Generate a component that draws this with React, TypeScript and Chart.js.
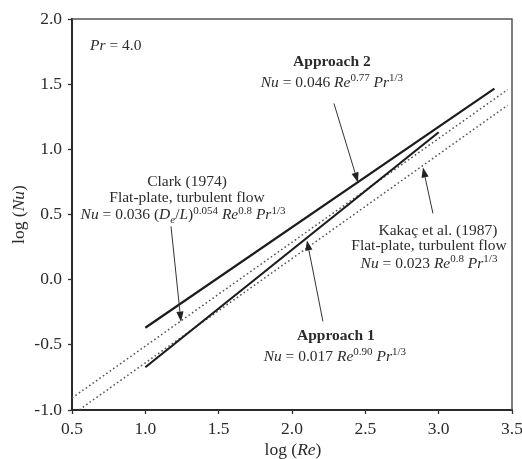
import React, { useEffect, useRef } from 'react';
import { Chart, registerables } from 'chart.js';

Chart.register(...registerables);

// ---- data (log10 values) ----
const approach1X = [1.0, 3.0];
const approach1Y = [-0.672, 1.131];
const approach2X = [1.0, 3.38];
const approach2Y = [-0.369, 1.466];
const clarkX = [0.5, 3.47];
const clarkY = [-0.908, 1.458];
const kakacX = [0.55, 3.47];
const kakacY = [-0.998, 1.338];

const xTicks = [0.5, 1.0, 1.5, 2.0, 2.5, 3.0, 3.5];
const yTicks = [-1.0, -0.5, 0.0, 0.5, 1.0, 1.5, 2.0];

const FONT = '"Liberation Serif", "Times New Roman", serif';
const INK = '#2b2b2b';

type Seg = { t: string; st?: 'i' | 'b' | 'sup' | 'isub' };

// annotation texts (anchor in data units)
const textBlocks: { x: number; y: number; align: 'left' | 'center'; segs: Seg[] }[] = [
  { x: 0.623, y: 1.76, align: 'left', segs: [{ t: 'Pr', st: 'i' }, { t: ' = 4.0' }] },
  { x: 2.272, y: 1.636, align: 'center', segs: [{ t: 'Approach 2', st: 'b' }] },
  { x: 2.272, y: 1.482, align: 'center', segs: [{ t: 'Nu', st: 'i' }, { t: ' = 0.046 ' }, { t: 'Re', st: 'i' }, { t: '0.77', st: 'sup' }, { t: ' ' }, { t: 'Pr', st: 'i' }, { t: '1/3', st: 'sup' }] },
  { x: 1.284, y: 0.716, align: 'center', segs: [{ t: 'Clark (1974)' }] },
  { x: 1.284, y: 0.593, align: 'center', segs: [{ t: 'Flat-plate, turbulent flow' }] },
  { x: 1.257, y: 0.462, align: 'center', segs: [{ t: 'Nu', st: 'i' }, { t: ' = 0.036 (' }, { t: 'D', st: 'i' }, { t: 'e', st: 'isub' }, { t: '/' }, { t: 'L', st: 'i' }, { t: ')' }, { t: '0.054', st: 'sup' }, { t: ' ' }, { t: 'Re', st: 'i' }, { t: '0.8', st: 'sup' }, { t: ' ' }, { t: 'Pr', st: 'i' }, { t: '1/3', st: 'sup' }] },
  { x: 2.995, y: 0.340, align: 'center', segs: [{ t: 'Kakaç et al. (1987)' }] },
  { x: 2.934, y: 0.225, align: 'center', segs: [{ t: 'Flat-plate, turbulent flow' }] },
  { x: 2.934, y: 0.087, align: 'center', segs: [{ t: 'Nu', st: 'i' }, { t: ' = 0.023 ' }, { t: 'Re', st: 'i' }, { t: '0.8', st: 'sup' }, { t: ' ' }, { t: 'Pr', st: 'i' }, { t: '1/3', st: 'sup' }] },
  { x: 2.299, y: -0.465, align: 'center', segs: [{ t: 'Approach 1', st: 'b' }] },
  { x: 2.292, y: -0.626, align: 'center', segs: [{ t: 'Nu', st: 'i' }, { t: ' = 0.017 ' }, { t: 'Re', st: 'i' }, { t: '0.90', st: 'sup' }, { t: ' ' }, { t: 'Pr', st: 'i' }, { t: '1/3', st: 'sup' }] },
];

// arrows: from -> to (tip), data units
const arrows = [
  { x0: 2.286, y0: 1.352, x1: 2.45, y1: 0.746 },
  { x0: 1.175, y0: 0.409, x1: 1.243, y1: -0.322 },
  { x0: 2.961, y0: 0.508, x1: 2.893, y1: 0.861 },
  { x0: 2.211, y0: -0.320, x1: 2.102, y1: 0.301 },
];

function segFont(st: Seg['st'], size: number) {
  switch (st) {
    case 'i': return `italic ${size}px ${FONT}`;
    case 'b': return `bold ${size}px ${FONT}`;
    case 'sup': return `${Math.round(size * 0.68)}px ${FONT}`;
    case 'isub': return `italic ${Math.round(size * 0.68)}px ${FONT}`;
    default: return `${size}px ${FONT}`;
  }
}

function drawRich(ctx: CanvasRenderingContext2D, segs: Seg[], x: number, y: number, align: 'left' | 'center', size: number) {
  const widths: number[] = [];
  let total = 0;
  for (const s of segs) {
    ctx.font = segFont(s.st, size);
    const w = ctx.measureText(s.t).width;
    widths.push(w);
    total += w;
  }
  let cx = align === 'center' ? x - total / 2 : x;
  ctx.textAlign = 'left';
  ctx.textBaseline = 'alphabetic';
  segs.forEach((s, i) => {
    ctx.font = segFont(s.st, size);
    const dy = s.st === 'sup' ? -size * 0.38 : s.st === 'isub' ? size * 0.22 : 0;
    ctx.fillText(s.t, cx, y + dy);
    cx += widths[i];
  });
}

const overlay = {
  id: 'overlay',
  afterDraw(chart: any) {
    const ctx: CanvasRenderingContext2D = chart.ctx;
    const { left, right, top, bottom } = chart.chartArea;
    const xs = chart.scales.x;
    const ys = chart.scales.y;
    ctx.save();
    // top and right frame
    ctx.strokeStyle = '#555';
    ctx.lineWidth = 1.5;
    ctx.beginPath();
    ctx.moveTo(left, top);
    ctx.lineTo(right, top);
    ctx.lineTo(right, bottom);
    ctx.stroke();

    ctx.fillStyle = INK;
    for (const b of textBlocks) {
      drawRich(ctx, b.segs, xs.getPixelForValue(b.x), ys.getPixelForValue(b.y), b.align, 15.5);
    }

    // arrows
    ctx.strokeStyle = '#333';
    ctx.fillStyle = '#222';
    ctx.lineWidth = 1;
    for (const a of arrows) {
      const x0 = xs.getPixelForValue(a.x0), y0 = ys.getPixelForValue(a.y0);
      const x1 = xs.getPixelForValue(a.x1), y1 = ys.getPixelForValue(a.y1);
      const ang = Math.atan2(y1 - y0, x1 - x0);
      const hl = 10, hw = 3.6;
      const bx = x1 - hl * Math.cos(ang), by = y1 - hl * Math.sin(ang);
      ctx.beginPath();
      ctx.moveTo(x0, y0);
      ctx.lineTo(bx, by);
      ctx.stroke();
      ctx.beginPath();
      ctx.moveTo(x1, y1);
      ctx.lineTo(bx + hw * Math.sin(ang), by - hw * Math.cos(ang));
      ctx.lineTo(bx - hw * Math.sin(ang), by + hw * Math.cos(ang));
      ctx.closePath();
      ctx.fill();
    }

    // axis titles
    ctx.fillStyle = INK;
    drawRich(ctx, [{ t: 'log (' }, { t: 'Re', st: 'i' }, { t: ')' }], (left + right) / 2 + 1, 454.5, 'center', 17.5);
    ctx.save();
    ctx.translate(23.5, (top + bottom) / 2);
    ctx.rotate(-Math.PI / 2);
    drawRich(ctx, [{ t: 'log (' }, { t: 'Nu', st: 'i' }, { t: ')' }], 0, 0, 'center', 17.5);
    ctx.restore();
    ctx.restore();
  },
};

export default function App() {
  const ref = useRef<HTMLCanvasElement>(null);
  useEffect(() => {
    if (!ref.current) return;
    const solid = { borderColor: '#1c1c1c', borderWidth: 2.2, pointRadius: 0, tension: 0, fill: false };
    const dotted = { borderColor: '#555', borderWidth: 1.5, borderDash: [1.6, 2.6], pointRadius: 0, tension: 0, fill: false };
    const toPts = (xs: number[], ys: number[]) => xs.map((x, i) => ({ x, y: ys[i] }));
    const chart = new Chart(ref.current, {
      type: 'line',
      data: {
        datasets: [
          { label: 'Approach 2', data: toPts(approach2X, approach2Y), ...solid },
          { label: 'Approach 1', data: toPts(approach1X, approach1Y), ...solid },
          { label: 'Clark (1974)', data: toPts(clarkX, clarkY), ...dotted },
          { label: 'Kakaç et al. (1987)', data: toPts(kakacX, kakacY), ...dotted },
        ],
      },
      options: {
        animation: false,
        responsive: false,
        devicePixelRatio: 1,
        layout: { autoPadding: false, padding: { top: 19, right: 10, left: 0, bottom: 0 } },
        plugins: { legend: { display: false }, tooltip: { enabled: false } },
        scales: {
          x: {
            type: 'linear',
            min: 0.5,
            max: 3.5,
            afterBuildTicks: (s: any) => { s.ticks = xTicks.map((v) => ({ value: v })); },
            afterFit: (s: any) => { s.height = 49; s.paddingLeft = 0; s.paddingRight = 0; },
            ticks: {
              callback: (v: any) => Number(v).toFixed(1),
              color: INK,
              font: { family: FONT, size: 17.5 },
              padding: 5,
              maxRotation: 0,
              autoSkip: false,
            },
            grid: { drawOnChartArea: false, drawTicks: true, tickLength: 4, tickColor: '#333', tickWidth: 1.3 },
            border: { color: '#2a2a2a', width: 2 },
          },
          y: {
            type: 'linear',
            min: -1,
            max: 2,
            afterBuildTicks: (s: any) => { s.ticks = yTicks.map((v) => ({ value: v })); },
            afterFit: (s: any) => { s.width = 72; s.paddingTop = 0; s.paddingBottom = 0; },
            ticks: {
              callback: (v: any) => Number(v).toFixed(1),
              color: INK,
              font: { family: FONT, size: 17.5 },
              padding: 6,
              autoSkip: false,
            },
            grid: { drawOnChartArea: false, drawTicks: true, tickLength: 4, tickColor: '#333', tickWidth: 1.3 },
            border: { color: '#2a2a2a', width: 2 },
          },
        },
      },
      plugins: [overlay],
    } as any);
    return () => chart.destroy();
  }, []);
  return (
    <div style={{ position: 'absolute', left: 0, top: 0, width: 522, height: 459, background: '#fff' }}>
      <canvas ref={ref} width={522} height={459} style={{ display: 'block' }} />
    </div>
  );
}
